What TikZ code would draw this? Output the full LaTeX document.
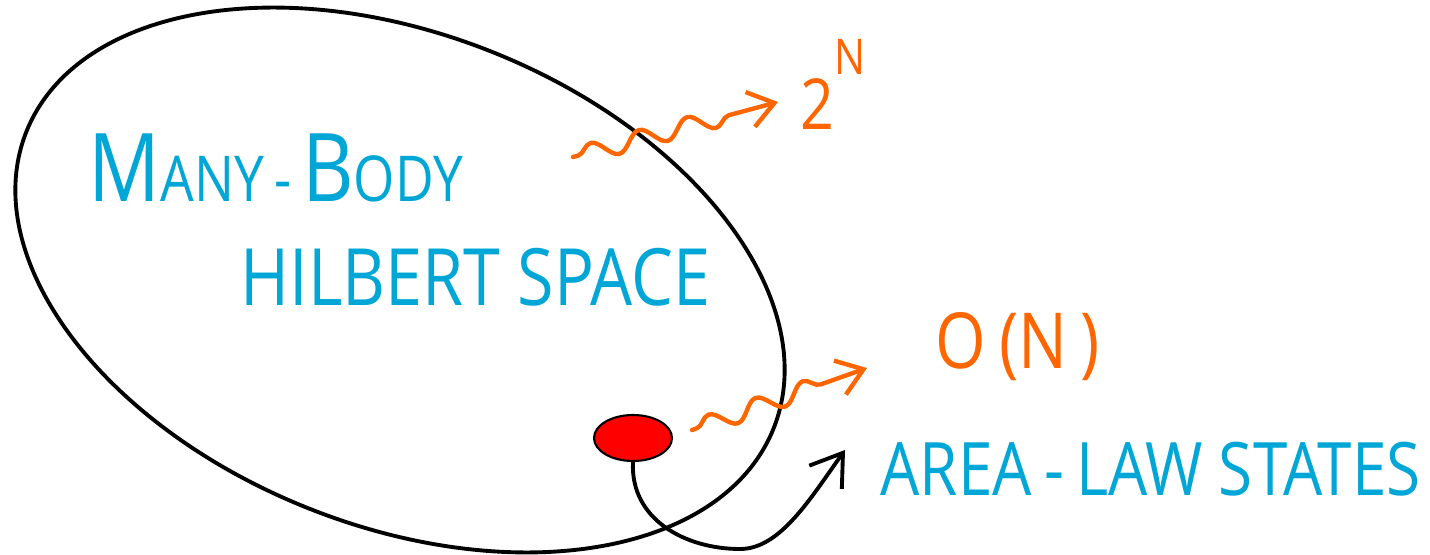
\documentclass[tikz,border=0pt]{standalone}
\usepackage{fontspec}
\usepackage{xcolor}
\usetikzlibrary{arrows.meta, positioning, decorations.pathmorphing, shapes.geometric}
\newfontfamily\mano[FakeStretch=0.84]{Open Sans}
\definecolor{azul}{RGB}{0,166,214}
\definecolor{naranja}{RGB}{255,102,0}

\begin{document}
\begin{tikzpicture}[
    line cap=round, line join=round,
    rotulo/.style={inner sep=0pt, anchor=base west, text=azul},
    cota/.style={inner sep=0pt, anchor=base west, text=naranja},
    onda/.style={draw=naranja, line width=1.25pt, decorate,
                 decoration={snake, amplitude=0.9mm, segment length=5mm,
                             pre length=0.5mm, post length=3mm},
                 -{Straight Barb[length=2.5mm, width=3.6mm]}},
    curva/.style={line width=1.1pt, -{Straight Barb[length=3mm, width=4mm]}}
  ]
  \useasboundingbox (0,0) rectangle (14.30,5.54);

  % --- Espacio de Hilbert ---
  \draw[line width=1.1pt] (4.00,2.74) ellipse[x radius=4.02, y radius=2.46, rotate=-21.6];

  \node[rotulo] (muchos) at (0.88,3.52)
    {\mano{\fontsize{27}{30}\selectfont M}{\fontsize{18}{20}\selectfont ANY\,-\,}%
     {\fontsize{27}{30}\selectfont B}{\fontsize{18}{20}\selectfont ODY}};
  \node[rotulo] (hilbert) at (2.40,2.49)
    {\mano\fontsize{22.5}{26}\selectfont HILBERT SPACE};

  % --- Estados de ley de area ---
  \node[ellipse, draw, line width=0.6pt, fill=red, minimum width=0.78cm,
        minimum height=0.46cm, inner sep=0pt] (blob) at (6.33,1.16) {};
  \node[rotulo] (area) at (8.80,0.59)
    {\mano\fontsize{21}{24}\selectfont AREA\,-\,LAW STATES};

  % --- Dimensiones ---
  \node[cota] (dosN) at (8.00,4.24)
    {\mano\fontsize{20}{24}\selectfont 2\raisebox{0.55cm}{\fontsize{14}{16}\selectfont N}};
  \node[cota] (ordenN) at (9.35,1.86)
    {\mano\fontsize{22}{26}\selectfont O\,(N\,)};

  \coordinate (w1a) at (5.73,3.97);
  \coordinate (w1b) at (7.78,4.52);
  \coordinate (w2a) at (6.92,1.24);
  \coordinate (w2b) at (8.67,1.86);
  \coordinate (punta) at (8.45,1.04);

  \draw[onda] (w1a) -- (w1b);
  \draw[onda] (w2a) -- (w2b);

  \draw[curva] (blob.south) .. controls (6.30,0.35) and (6.85,0.05) .. (7.40,0.05)
               .. controls (7.80,0.05) and (8.10,0.55) .. (punta);

\end{tikzpicture}
\end{document}
